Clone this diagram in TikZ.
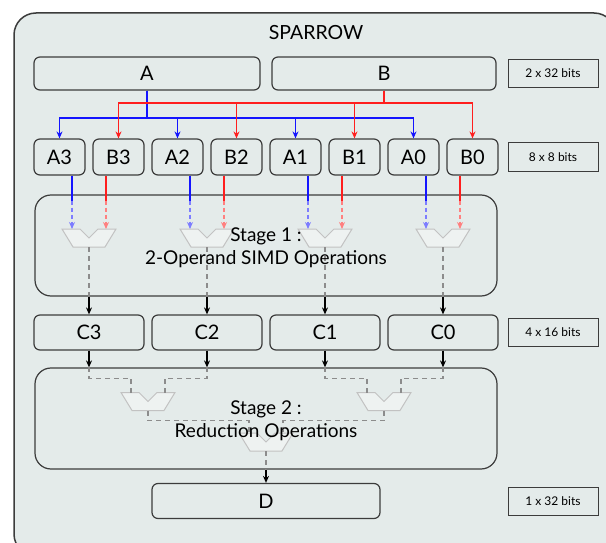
\documentclass[tikz,border=0pt]{standalone}
\usepackage{fontspec}
\setmainfont{Lato}
\usetikzlibrary{arrows.meta,calc}
\definecolor{bg}{HTML}{E4EBEA}
\definecolor{edge}{HTML}{3C3C3C}
\definecolor{myblue}{HTML}{1414FF}
\definecolor{myred}{HTML}{FF1E1E}
\definecolor{lblue}{HTML}{7D7DFF}
\definecolor{lred}{HTML}{FF8080}
\definecolor{gline}{HTML}{8C8C8C}
\definecolor{aluline}{HTML}{C2C2C2}
\definecolor{alufill}{HTML}{EEF2F1}
\tikzset{
  alu/.pic={\draw[draw=aluline,fill=alufill,line width=1pt,line join=miter]
    (-27,-9) -- (-9,-9) -- (0,0) -- (9,-9) -- (27,-9) -- (16,9) -- (-16,9) -- cycle;}
}
\begin{document}
\begin{tikzpicture}[x=1pt,y=-1pt,
  box/.style={draw=edge,fill=bg,rounded corners=6pt,line width=1.2pt,inner sep=0pt,font=\fontsize{20}{22}\selectfont},
  bits/.style={draw=edge,fill=bg,line width=1pt,minimum width=90pt,minimum height=28pt,inner sep=0pt,font=\fontsize{12}{14}\selectfont},
  stagebox/.style={draw=edge,fill=bg,rounded corners=16pt,line width=1.2pt,minimum width=462pt,minimum height=101pt,inner sep=0pt},
  stagetext/.style={align=center,font=\fontsize{19}{23}\selectfont,inner sep=0pt},
  tip/.style={-{Stealth[length=7pt,width=6pt]}},
  barrow/.style={myblue,line width=1.2pt,tip},
  rarrow/.style={myred,line width=1.2pt,tip},
  bsolid/.style={myblue,line width=1.2pt},
  rsolid/.style={myred,line width=1.2pt},
  bdash/.style={lblue,line width=1.2pt,dash pattern=on 4pt off 3pt,tip},
  rdash/.style={lred,line width=1.2pt,dash pattern=on 4pt off 3pt,tip},
  gdash/.style={gline,line width=1.2pt,dash pattern=on 5pt off 4pt},
  karrow/.style={black,line width=1.2pt,tip}
]
\useasboundingbox (0,0) rectangle (606,543);
\fill[white] (0,0) rectangle (606,543);
\begin{scope}
  \clip (0,0) rectangle (606,543);
  \draw[draw=edge,fill=bg,line width=1.5pt,rounded corners=22pt] (14,13) rectangle (616,556);
\end{scope}
\node[font=\fontsize{19.5}{22}\selectfont] (title) at (316,33) {SPARROW};

% top row
\node[box,minimum width=226pt,minimum height=33pt] (A) at (147,73.5) {A};
\node[box,minimum width=224pt,minimum height=33pt] (B) at (384,73.5) {B};
\node[bits] (l1) at (553,73.5) {2 x 32 bits};

% 8x8 row
\foreach \n/\x in {A3/59.5,B3/118.5,A2/177.5,B2/236.5,A1/295.5,B1/354.5,A0/413.5,B0/472.5}
  \node[box,minimum width=51pt,minimum height=36pt] (\n) at (\x,157) {\n};
\node[bits] (l2) at (553,157) {8 x 8 bits};

\coordinate (busA) at (147,118);
\coordinate (busB) at (384,103);
\foreach \n in {A3,A2,A1,A0} \draw[barrow] (A.south) -- (busA) -| (\n.north);
\foreach \n in {B3,B2,B1,B0} \draw[rarrow] (B.south) -- (busB) -| (\n.north);

% stage 1
\node[stagebox] (st1) at (266,245.5) {};
\foreach \i/\x in {3/89,2/207,1/325,0/443}{
  \coordinate (S1\i) at (\x,238);
  \pic at (S1\i) {alu};
  \draw[bsolid] ($(A\i.south)+(12.5,0)$) -- ++(0,25) coordinate (pa\i);
  \draw[bdash] (pa\i) -- ($(S1\i)+(-17,-9)$);
  \draw[rsolid] ($(B\i.south)+(-12.5,0)$) -- ++(0,25) coordinate (pb\i);
  \draw[rdash] (pb\i) -- ($(S1\i)+(17,-9)$);
  \draw[gdash] ($(S1\i)+(0,9)$) -- (S1\i |- st1.south);
}

% C row
\foreach \i/\x in {3/89,2/207,1/325,0/443}
  \node[box,minimum width=110pt,minimum height=35pt] (C\i) at (\x,332.5) {C\i};
\node[bits] (l3) at (553,332) {4 x 16 bits};
\foreach \i in {3,2,1,0} \draw[karrow] (S1\i |- st1.south) -- (C\i.north);

% stage 2
\node[stagebox] (st2) at (266,418.5) {};
\coordinate (S21) at (148,401.5);
\coordinate (S22) at (384,401.5);
\coordinate (S3) at (266,442);
\pic at (S21) {alu};
\pic at (S22) {alu};
\pic at (S3) {alu};
\foreach \i in {3,2,1,0} \draw[karrow] (C\i.south) -- (C\i.south |- st2.north);
\draw[gdash] (C3.south |- st2.north) -- ++(0,11) -| ($(S21)+(-17,-9)$);
\draw[gdash] (C2.south |- st2.north) -- ++(0,11) -| ($(S21)+(17,-9)$);
\draw[gdash] (C1.south |- st2.north) -- ++(0,11) -| ($(S22)+(-17,-9)$);
\draw[gdash] (C0.south |- st2.north) -- ++(0,11) -| ($(S22)+(17,-9)$);
\draw[gdash] ($(S21)+(0,9)$) -- ++(0,10) -| ($(S3)+(-17,-9)$);
\draw[gdash] ($(S22)+(0,9)$) -- ++(0,10) -| ($(S3)+(17,-9)$);
\draw[gdash] ($(S3)+(0,9)$) -- (S3 |- st2.south);

% D
\node[box,minimum width=228pt,minimum height=35pt] (D) at (266,501) {D};
\node[bits] (l4) at (553,501) {1 x 32 bits};
\draw[karrow] (S3 |- st2.south) -- (D.north);

% stage texts
\node[stagetext] (t1) at (266,248) {Stage 1 :\\2-Operand SIMD Operations};
\node[stagetext] (t2) at (266,421) {Stage 2 :\\Reduction Operations};
\end{tikzpicture}
\end{document}
